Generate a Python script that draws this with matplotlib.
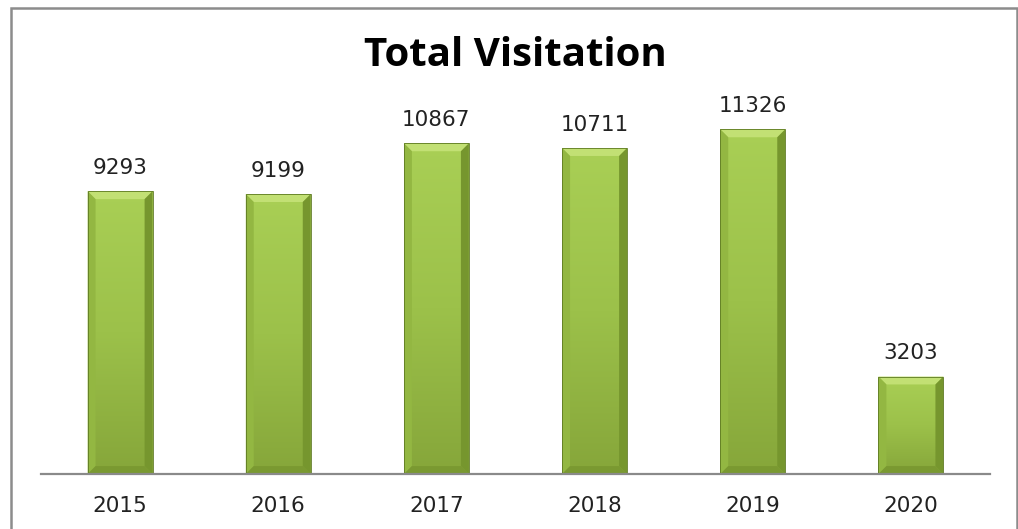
import numpy as np
import matplotlib.pyplot as plt
from matplotlib.colors import LinearSegmentedColormap
from matplotlib.patches import Rectangle, Polygon

years = ['2015', '2016', '2017', '2018', '2019', '2020']
visits = [9293, 9199, 10867, 10711, 11326, 3203]

FONT_SIZE = 15.5
BAR_WIDTH = 0.41
BEVEL_X = 0.05
BEVEL_Y = 260

fig = plt.figure(figsize=(10.18, 5.29), dpi=100)
ax = fig.add_axes([41 / 1018, 55 / 529, 949 / 1018, 426 / 529])

x = np.arange(len(years))
bars = ax.bar(x, visits, width=BAR_WIDTH, color='#98bc45', zorder=2)

# vertical gradient + bevel on each bar
cmap = LinearSegmentedColormap.from_list('g', ['#86a63a', '#9cc14a', '#a9cf55'])
grad = np.linspace(0, 1, 256).reshape(-1, 1)
for rect in bars:
    x0, w, h = rect.get_x(), rect.get_width(), rect.get_height()
    im = ax.imshow(grad, cmap=cmap, origin='lower',
                   extent=[x0, x0 + w, 0, h], aspect='auto', zorder=3)
    im.set_clip_path(rect)
    x1, bx, by = x0 + w, BEVEL_X, BEVEL_Y
    # top bevel (light)
    ax.add_patch(Polygon([[x0, h], [x1, h], [x1 - bx, h - by], [x0 + bx, h - by]],
                         closed=True, color='#c2e074', lw=0, zorder=4))
    # left / right bevels
    ax.add_patch(Polygon([[x0, h], [x0 + bx, h - by], [x0 + bx, by], [x0, 0]],
                         closed=True, color='#93b742', lw=0, zorder=4))
    ax.add_patch(Polygon([[x1, h], [x1 - bx, h - by], [x1 - bx, by], [x1, 0]],
                         closed=True, color='#76962e', lw=0, zorder=4))
    # bottom bevel
    ax.add_patch(Polygon([[x0, 0], [x1, 0], [x1 - bx, by], [x0 + bx, by]],
                         closed=True, color='#7a9931', lw=0, zorder=4))
    ax.add_patch(Rectangle((x0, 0), w, h, fill=False, ec='#5e7a22', lw=0.6, zorder=5))

for xi, v in zip(x, visits):
    ax.text(xi, v + 430, str(v), ha='center', va='bottom', fontsize=FONT_SIZE, color='#222222')

ax.set_xlim(-0.5, len(years) - 0.5)
ax.set_ylim(0, 14000)
ax.set_xticks(x)
ax.set_xticklabels(years, fontsize=FONT_SIZE, color='#222222')
ax.tick_params(axis='x', length=0, pad=16)
ax.set_yticks([])
for s in ['top', 'left', 'right']:
    ax.spines[s].set_visible(False)
ax.spines['bottom'].set_color('#8a8a8a')
ax.spines['bottom'].set_linewidth(1.6)
ax.spines['bottom'].set_zorder(6)

fig.text(515 / 1018, 1 - 56 / 529, 'Total Visitation', ha='center', va='center',
         fontsize=29, fontweight='bold', family='Open Sans', color='black')

# outer chart frame
fig.add_artist(Rectangle((11 / 1018, -0.05), 1006 / 1018, 1.05 - 8 / 529,
                         transform=fig.transFigure, fill=False, ec='#8c8c8c', lw=1.8))

fig.savefig('out.png', dpi=100)
